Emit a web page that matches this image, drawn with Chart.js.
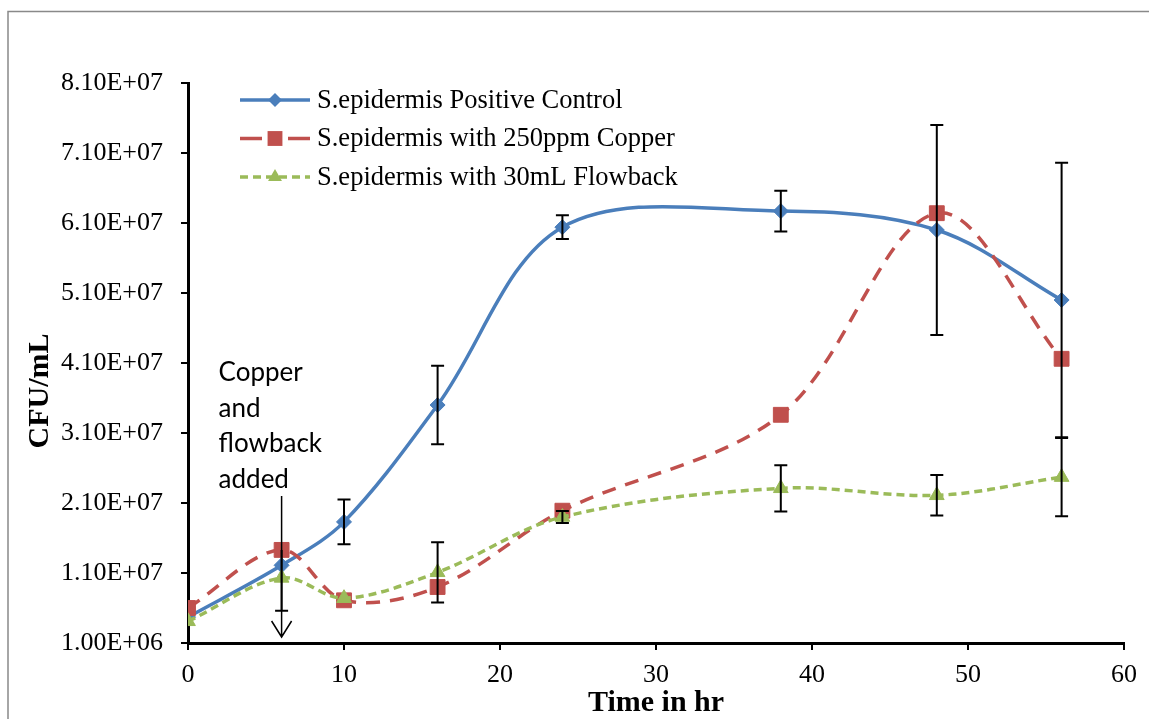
<!DOCTYPE html>
<html>
<head>
<meta charset="utf-8">
<script src="https://cdn.jsdelivr.net/npm/chart.js@4"></script>
<style>
  html, body { margin: 0; padding: 0; background: #fff; }
  #wrap { width: 1149px; height: 719px; }
</style>
</head>
<body>
<div id="wrap"><canvas id="c" width="1149" height="719"></canvas></div>
<script>
// ---- data ----
const xValues = [0, 6, 10, 16, 24, 38, 48, 56];
const controlCFU  = [4.7e6, 1.21e7, 1.83e7, 3.5e7, 6.04e7, 6.27e7, 6.0e7, 5.0e7];
const copperCFU   = [6.0e6, 1.43e7, 7.1e6, 9.0e6, 1.99e7, 3.36e7, 6.24e7, 4.16e7];
const flowbackCFU = [4.1e6, 1.03e7, 7.4e6, 1.11e7, 1.9e7, 2.31e7, 2.21e7, 2.47e7];
// error bar half-widths (plus / minus)
const controlErr      = [null, null, 3.2e6, 5.6e6, 1.7e6, 2.9e6, 1.5e7, 1.96e7];
const copperErrPlus   = [null, null, null, null, null, null, null, null];
const copperErrMinus  = [null, 8.7e6, null, null, null, null, null, null];
const flowbackErr     = [null, null, null, 4.3e6, 0.86e6, 3.3e6, 2.9e6, 5.6e6];
const seriesNames = ['S.epidermis Positive Control', 'S.epidermis with 250ppm Copper', 'S.epidermis with 30mL Flowback'];
const xTicks = [0, 10, 20, 30, 40, 50, 60];
const yTicks = [1e6, 1.1e7, 2.1e7, 3.1e7, 4.1e7, 5.1e7, 6.1e7, 7.1e7, 8.1e7];
const yTickLabels = ['1.00E+06', '1.10E+07', '2.10E+07', '3.10E+07', '4.10E+07', '5.10E+07', '6.10E+07', '7.10E+07', '8.10E+07'];
const annotationLines = ['Copper', 'and', 'flowback', 'added'];
const annotationX = 6;
const arrowFrom = 2.2e7, arrowTo = 1.86e6;

const SERIF = "'Liberation Serif', 'Times New Roman', serif";
const toPts = (ys) => xValues.map((x, i) => ({ x: x, y: ys[i] }));

const errorBars = {
  id: 'errorBars',
  afterDatasetsDraw(chart) {
    const ctx = chart.ctx, xs = chart.scales.x, ys = chart.scales.y;
    ctx.save();
    ctx.strokeStyle = '#000';
    ctx.lineWidth = 2;
    chart.data.datasets.forEach(ds => {
      const up = ds.errPlus || [], dn = ds.errMinus || [];
      ds.data.forEach((p, i) => {
        const eu = up[i], ed = dn[i];
        if (eu == null && ed == null) return;
        const px = xs.getPixelForValue(p.x);
        const c = ys.getPixelForValue(p.y);
        const t = eu == null ? c : ys.getPixelForValue(p.y + eu);
        const b = ed == null ? c : ys.getPixelForValue(p.y - ed);
        ctx.beginPath();
        ctx.moveTo(px, t); ctx.lineTo(px, b);
        if (eu != null) { ctx.moveTo(px - 6.5, t); ctx.lineTo(px + 6.5, t); }
        if (ed != null) { ctx.moveTo(px - 6.5, b); ctx.lineTo(px + 6.5, b); }
        ctx.stroke();
      });
    });
    ctx.restore();
  }
};

function drawMarker(ctx, style, x, y, r, color) {
  ctx.fillStyle = color;
  ctx.beginPath();
  if (style === 'rectRot') {
    ctx.moveTo(x, y - r); ctx.lineTo(x + r, y); ctx.lineTo(x, y + r); ctx.lineTo(x - r, y);
  } else if (style === 'rect') {
    const s = r * Math.SQRT1_2;
    ctx.rect(x - s, y - s, 2 * s, 2 * s);
  } else {
    ctx.moveTo(x, y - r);
    ctx.lineTo(x + r * Math.sin(2 * Math.PI / 3), y - r * Math.cos(2 * Math.PI / 3));
    ctx.lineTo(x + r * Math.sin(4 * Math.PI / 3), y - r * Math.cos(4 * Math.PI / 3));
  }
  ctx.closePath();
  ctx.fill();
}

const extras = {
  id: 'extras',
  beforeDraw(chart) {
    const ctx = chart.ctx;
    ctx.save();
    ctx.strokeStyle = '#898989';
    ctx.lineWidth = 1.5;
    ctx.beginPath();
    ctx.moveTo(8, 719); ctx.lineTo(8, 11.5); ctx.lineTo(1149, 11.5);
    ctx.stroke();
    ctx.restore();
  },
  afterDraw(chart) {
    const ctx = chart.ctx, xs = chart.scales.x, ys = chart.scales.y;
    ctx.save();
    // legend
    const rows = [100, 138.5, 177];
    const dashes = [[], [22, 26], [8, 5]];
    chart.data.datasets.forEach((ds, i) => {
      const y = rows[i];
      ctx.strokeStyle = ds.borderColor;
      ctx.lineWidth = 3.5;
      ctx.setLineDash(dashes[i]);
      ctx.beginPath(); ctx.moveTo(240, y); ctx.lineTo(310, y); ctx.stroke();
      ctx.setLineDash([]);
      const r = ds.pointStyle === 'rect' ? 10.5 : (ds.pointStyle === 'triangle' ? 8 : 7);
      drawMarker(ctx, ds.pointStyle, 275, y, r, ds.pointBackgroundColor);
      ctx.fillStyle = '#000';
      ctx.font = '26.5px ' + SERIF;
      ctx.textBaseline = 'middle';
      ctx.textAlign = 'left';
      ctx.fillText(ds.label, 317, y + 1);
    });
    // annotation text
    const ax = xs.getPixelForValue(annotationX);
    ctx.fillStyle = '#000';
    ctx.font = "26px Lato, 'Open Sans', sans-serif";
    ctx.textBaseline = 'alphabetic';
    annotationLines.forEach((t, i) => ctx.fillText(t, ax - 63, 381 + i * 35.5));
    // arrow
    const y0 = ys.getPixelForValue(arrowFrom), y1 = ys.getPixelForValue(arrowTo);
    ctx.strokeStyle = '#000';
    ctx.lineWidth = 1.5;
    ctx.beginPath();
    ctx.moveTo(ax, y0); ctx.lineTo(ax, y1);
    ctx.moveTo(ax - 10, y1 - 16); ctx.lineTo(ax, y1); ctx.lineTo(ax + 10, y1 - 16);
    ctx.stroke();
    // y-axis title
    ctx.save();
    ctx.translate(40, 391);
    ctx.rotate(-Math.PI / 2);
    ctx.font = 'bold 30px ' + SERIF;
    ctx.textAlign = 'center';
    ctx.textBaseline = 'middle';
    ctx.fillText('CFU/mL', 0, 0);
    ctx.restore();
    ctx.restore();
  }
};

new Chart(document.getElementById('c'), {
  type: 'line',
  data: {
    datasets: [
      {
        label: seriesNames[0], data: toPts(controlCFU), errPlus: controlErr, errMinus: controlErr,
        borderColor: '#4A7EBB', backgroundColor: '#4A7EBB', borderWidth: 3.5,
        pointStyle: 'rectRot', pointRadius: 7.5, pointBackgroundColor: '#4A7EBB', pointBorderColor: '#4A7EBB', pointBorderWidth: 1,
        tension: 0.34, order: 3
      },
      {
        label: seriesNames[1], data: toPts(copperCFU), errPlus: copperErrPlus, errMinus: copperErrMinus,
        borderColor: '#C0504D', backgroundColor: '#C0504D', borderWidth: 3.5, borderDash: [14, 10],
        pointStyle: 'rect', pointRadius: 10.5, pointBackgroundColor: '#C0504D', pointBorderColor: '#C0504D', pointBorderWidth: 1,
        tension: 0.34, order: 2
      },
      {
        label: seriesNames[2], data: toPts(flowbackCFU), errPlus: flowbackErr, errMinus: flowbackErr,
        borderColor: '#9BBB59', backgroundColor: '#9BBB59', borderWidth: 3.5, borderDash: [8, 5],
        pointStyle: 'triangle', pointRadius: 8.5, pointBackgroundColor: '#9BBB59', pointBorderColor: '#9BBB59', pointBorderWidth: 1,
        tension: 0.34, order: 1
      }
    ]
  },
  options: {
    responsive: false,
    animation: false,
    events: [],
    layout: { padding: { top: 83, right: 25, left: 0, bottom: 0 } },
    plugins: { legend: { display: false }, tooltip: { enabled: false } },
    scales: {
      x: {
        type: 'linear', min: 0, max: 60,
        afterFit: s => { s.height = 76; },
        afterBuildTicks: s => { s.ticks = xTicks.map(v => ({ value: v })); },
        ticks: { color: '#000', font: { family: SERIF, size: 26 }, padding: 10, maxRotation: 0, autoSkip: false },
        grid: { drawOnChartArea: false, drawTicks: true, tickLength: 7, color: '#000', lineWidth: 2 },
        border: { color: '#000', width: 3 },
        title: { display: true, text: 'Time in hr', color: '#000', font: { family: SERIF, size: 30, weight: 'bold', lineHeight: 1 }, padding: { top: 0, bottom: 1 } }
      },
      y: {
        type: 'linear', min: yTicks[0], max: yTicks[yTicks.length - 1],
        afterFit: s => { s.width = 188; },
        afterBuildTicks: s => { s.ticks = yTicks.map(v => ({ value: v })); },
        ticks: {
          color: '#000', font: { family: SERIF, size: 26 }, padding: 18, autoSkip: false,
          callback: (v) => { const i = yTicks.indexOf(v); return i >= 0 ? yTickLabels[i] : ''; }
        },
        grid: { drawOnChartArea: false, drawTicks: true, tickLength: 7, color: '#000', lineWidth: 2 },
        border: { color: '#000', width: 3 }
      }
    }
  },
  plugins: [errorBars, extras]
});
</script>
</body>
</html>
